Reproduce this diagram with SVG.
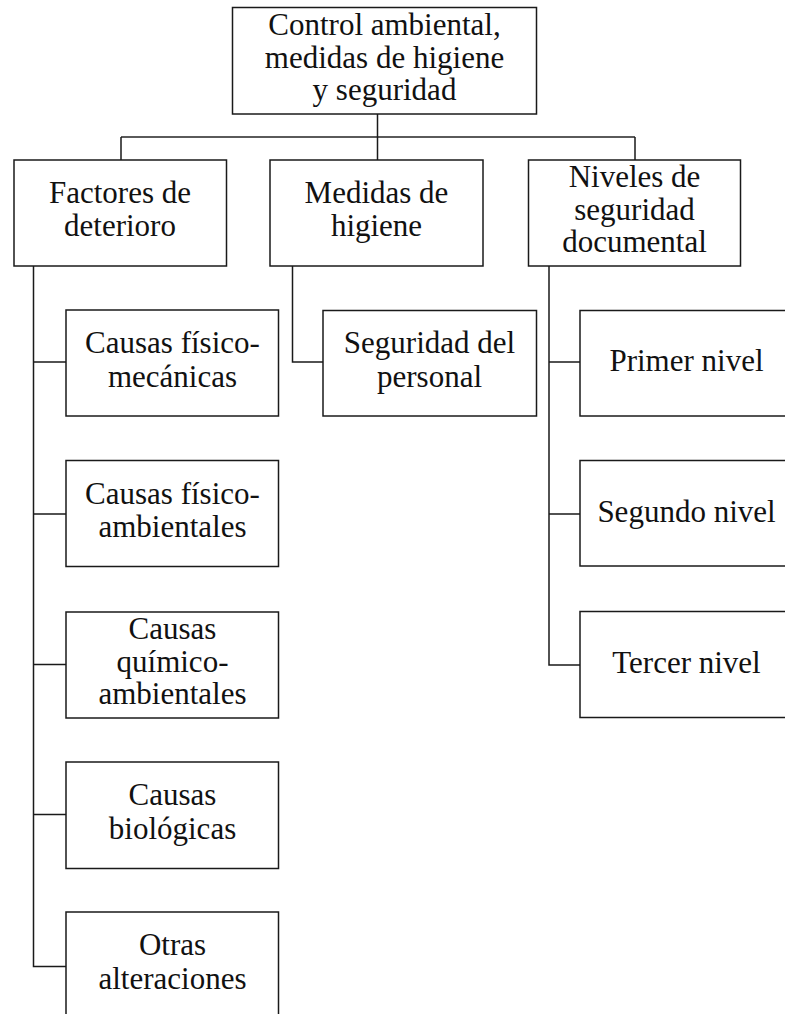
<svg xmlns="http://www.w3.org/2000/svg" width="785" height="1014" viewBox="0 0 785 1014">
<style>
.box{fill:#fff;stroke:#1a1a1a;stroke-width:1.5}
.t{font-size:31px;fill:#111;text-anchor:middle}
.c{fill:none;stroke:#1a1a1a;stroke-width:1.5}
.h{fill:none;stroke:#5a5a5a;stroke-width:2.2}
</style>
<rect width="785" height="1014" fill="#fff"/>
<g id="connectors">
<path class="h" d="M121,137 H635"/>
<path class="c" d="M377.5,114 V160 M121,137 V160 M635,137 V160"/>
<path class="c" d="M33.5,266 V966.5 H66 M33.5,362 H66 M33.5,514 H66 M33.5,664.5 H66 M33.5,814.5 H66"/>
<path class="c" d="M292.5,266 V362 H323"/>
<path class="c" d="M549,266 V665 H580 M549,362 H580 M549,514 H580"/>
</g>
<g font-family="Liberation Serif, DejaVu Serif, serif">
<g id="root"><rect class="box" x="232.5" y="7.5" width="304" height="106.5"/>
<text class="t" x="384.5" y="35">Control ambiental,</text>
<text class="t" x="384.5" y="67.5">medidas de higiene</text>
<text class="t" x="384.5" y="100">y seguridad</text></g>
<g id="factores"><rect class="box" x="14" y="160" width="212.5" height="106"/>
<text class="t" x="120" y="203">Factores de</text>
<text class="t" x="120" y="236">deterioro</text></g>
<g id="medidas"><rect class="box" x="270" y="160" width="213" height="106"/>
<text class="t" x="376.5" y="203">Medidas de</text>
<text class="t" x="376.5" y="236">higiene</text></g>
<g id="niveles"><rect class="box" x="528.5" y="160" width="212" height="106"/>
<text class="t" x="634.5" y="187">Niveles de</text>
<text class="t" x="634.5" y="219.5">seguridad</text>
<text class="t" x="634.5" y="252">documental</text></g>
<g id="fisico-mecanicas"><rect class="box" x="66" y="310" width="212.5" height="106"/>
<text class="t" x="172.5" y="353">Causas físico-</text>
<text class="t" x="172.5" y="386.5">mecánicas</text></g>
<g id="fisico-ambientales"><rect class="box" x="66" y="460.5" width="212.5" height="106"/>
<text class="t" x="172.5" y="503.5">Causas físico-</text>
<text class="t" x="172.5" y="537">ambientales</text></g>
<g id="quimico-ambientales"><rect class="box" x="66" y="612" width="212.5" height="106"/>
<text class="t" x="172.5" y="639">Causas</text>
<text class="t" x="172.5" y="671.5">químico-</text>
<text class="t" x="172.5" y="704">ambientales</text></g>
<g id="biologicas"><rect class="box" x="66" y="762" width="212.5" height="106.5"/>
<text class="t" x="172.5" y="805">Causas</text>
<text class="t" x="172.5" y="838.5">biológicas</text></g>
<g id="otras"><rect class="box" x="66" y="912" width="212.5" height="106"/>
<text class="t" x="172.5" y="955">Otras</text>
<text class="t" x="172.5" y="988.5">alteraciones</text></g>
<g id="seguridad-personal"><rect class="box" x="323" y="310.5" width="213.5" height="105.5"/>
<text class="t" x="429.5" y="353">Seguridad del</text>
<text class="t" x="429.5" y="386.5">personal</text></g>
<g id="primer"><rect class="box" x="580" y="310.5" width="213" height="105.5"/>
<text class="t" x="686.5" y="371">Primer nivel</text></g>
<g id="segundo"><rect class="box" x="580" y="460.5" width="213" height="105.5"/>
<text class="t" x="686.5" y="522">Segundo nivel</text></g>
<g id="tercer"><rect class="box" x="580" y="611.5" width="213" height="106"/>
<text class="t" x="686.5" y="673">Tercer nivel</text></g>
</g>
</svg>
